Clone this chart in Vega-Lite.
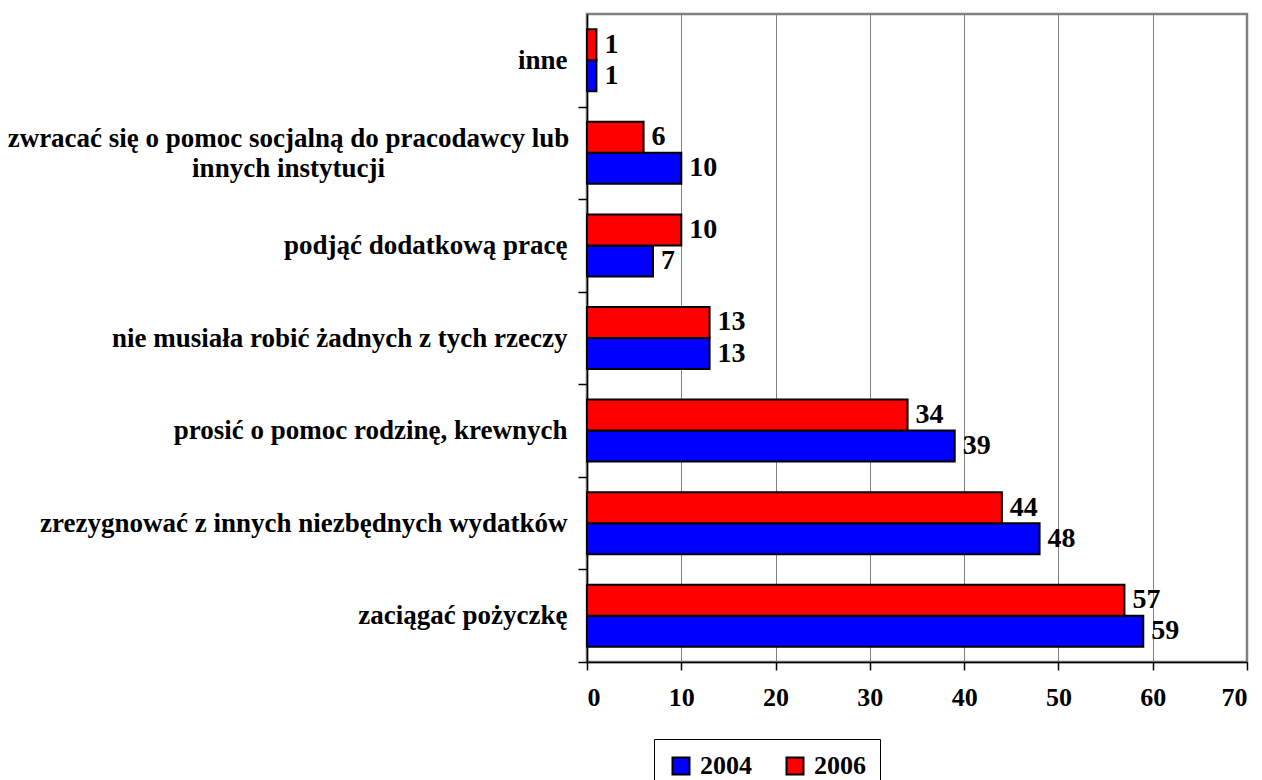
{
  "$schema": "https://vega.github.io/schema/vega-lite/v6.json",
  "width": 660,
  "height": 648,
  "autosize": {"type": "none"},
  "padding": {"left": 587, "top": 14, "right": 15, "bottom": 118},
  "background": "white",
  "config": {
    "font": "Liberation Serif",
    "view": {"stroke": "#808080", "strokeWidth": 2.5}
  },
  "data": {
    "values": [
      {"category": "inne", "year": "2004", "value": 1},
      {"category": "inne", "year": "2006", "value": 1},
      {"category": "zwracać się o pomoc socjalną do pracodawcy lub innych instytucji", "year": "2004", "value": 10},
      {"category": "zwracać się o pomoc socjalną do pracodawcy lub innych instytucji", "year": "2006", "value": 6},
      {"category": "podjąć dodatkową pracę", "year": "2004", "value": 7},
      {"category": "podjąć dodatkową pracę", "year": "2006", "value": 10},
      {"category": "nie musiała robić żadnych z tych rzeczy", "year": "2004", "value": 13},
      {"category": "nie musiała robić żadnych z tych rzeczy", "year": "2006", "value": 13},
      {"category": "prosić o pomoc rodzinę, krewnych", "year": "2004", "value": 39},
      {"category": "prosić o pomoc rodzinę, krewnych", "year": "2006", "value": 34},
      {"category": "zrezygnować z innych niezbędnych wydatków", "year": "2004", "value": 48},
      {"category": "zrezygnować z innych niezbędnych wydatków", "year": "2006", "value": 44},
      {"category": "zaciągać pożyczkę", "year": "2004", "value": 59},
      {"category": "zaciągać pożyczkę", "year": "2006", "value": 57}
    ]
  },
  "encoding": {
    "y": {
      "field": "category",
      "type": "nominal",
      "sort": [
        "inne",
        "zwracać się o pomoc socjalną do pracodawcy lub innych instytucji",
        "podjąć dodatkową pracę",
        "nie musiała robić żadnych z tych rzeczy",
        "prosić o pomoc rodzinę, krewnych",
        "zrezygnować z innych niezbędnych wydatków",
        "zaciągać pożyczkę"
      ],
      "scale": {"paddingInner": 0, "paddingOuter": 0},
      "axis": {
        "title": null,
        "domainColor": "black",
        "domainWidth": 1.5,
        "tickColor": "black",
        "tickWidth": 1.5,
        "tickSize": 9,
        "tickOffset": 46.29,
        "labelFont": "Liberation Serif",
        "labelFontWeight": "bold",
        "labelFontSize": 27,
        "labelColor": "black",
        "labelLimit": 700,
        "labelLineHeight": 30,
        "labelExpr": "indexof(datum.value, 'zwracać') == 0 ? ['zwracać się o pomoc socjalną do pracodawcy lub', 'innych instytucji'] : datum.value",
        "labelAlign": {"condition": {"test": "indexof(datum.value, 'zwracać') == 0", "value": "center"}, "value": "right"},
        "labelPadding": {"condition": {"test": "indexof(datum.value, 'zwracać') == 0", "value": 290}, "value": 11},
        "labelOffset": {"condition": {"test": "indexof(datum.value, 'zwracać') == 0", "value": -61}, "value": -46.29}
      }
    },
    "yOffset": {
      "field": "year",
      "type": "nominal",
      "sort": ["2006", "2004"],
      "scale": {"paddingInner": 0, "paddingOuter": 0.493}
    },
    "x": {
      "field": "value",
      "type": "quantitative",
      "scale": {"domain": [0, 70], "nice": false},
      "axis": {
        "title": null,
        "values": [0, 10, 20, 30, 40, 50, 60, 70],
        "grid": true,
        "gridColor": "#808080",
        "gridWidth": 1,
        "domainColor": "black",
        "domainWidth": 1.5,
        "tickColor": "black",
        "tickWidth": 1.5,
        "tickSize": 8,
        "labelFont": "Liberation Serif",
        "labelFontWeight": "bold",
        "labelFontSize": 26,
        "labelColor": "black",
        "labelPadding": 14
      }
    }
  },
  "layer": [
    {
      "mark": {"type": "bar", "stroke": "black", "strokeWidth": 2},
      "encoding": {
        "color": {
          "field": "year",
          "type": "nominal",
          "scale": {"domain": ["2004", "2006"], "range": ["#0000FF", "#FF0000"]},
          "legend": {
            "title": null,
            "orient": "none",
            "legendX": 67,
            "legendY": 725,
            "direction": "horizontal",
            "symbolType": "square",
            "symbolSize": 289,
            "symbolStrokeColor": "black",
            "symbolStrokeWidth": 2,
            "labelFont": "Liberation Serif",
            "labelFontWeight": "bold",
            "labelFontSize": 26,
            "labelColor": "black",
            "labelOffset": 6,
            "columnPadding": 30,
            "strokeColor": "black",
            "padding": 14,
            "fillColor": "white"
          }
        }
      }
    },
    {
      "mark": {
        "type": "text",
        "align": "left",
        "baseline": "middle",
        "dx": 8,
        "font": "Liberation Serif",
        "fontWeight": "bold",
        "fontSize": 28,
        "color": "black"
      },
      "encoding": {
        "text": {"field": "value", "type": "quantitative"}
      }
    }
  ]
}
